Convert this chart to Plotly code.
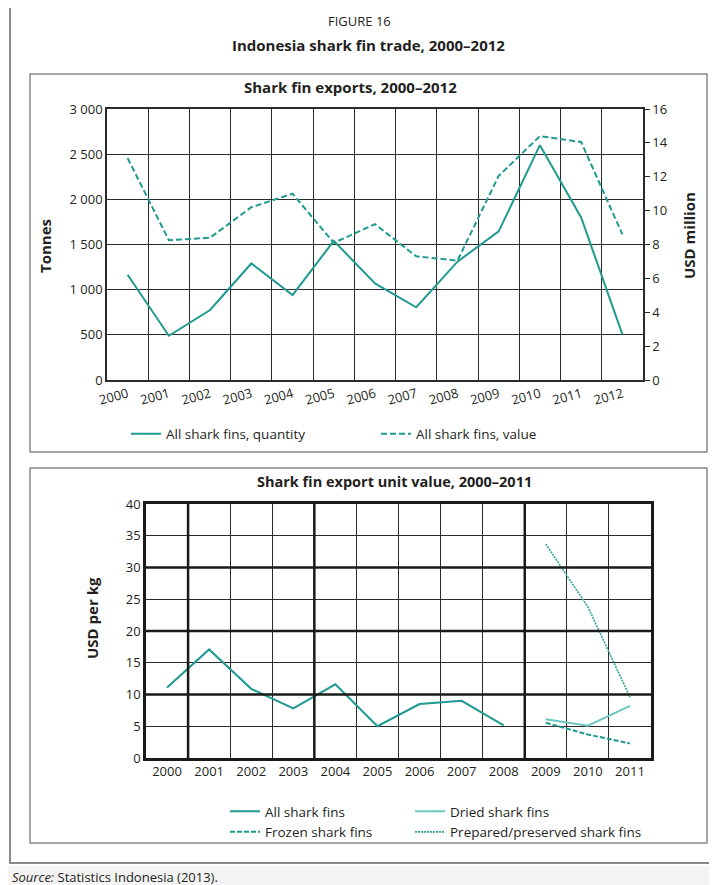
import plotly.graph_objects as go

# ---------------- data ----------------
years_top = ["2000", "2001", "2002", "2003", "2004", "2005", "2006",
             "2007", "2008", "2009", "2010", "2011", "2012"]
quantity_tonnes = [1165, 490, 775, 1290, 940, 1540, 1070, 805, 1310, 1645, 2600, 1800, 505]
value_usd_million = [13.1, 8.25, 8.4, 10.2, 11.0, 8.1, 9.2, 7.3, 7.05, 12.05, 14.4, 14.05, 8.6]

left_ticks = [0, 500, 1000, 1500, 2000, 2500, 3000]
left_ticktext = ["0", "500", "1 000", "1 500", "2 000", "2 500", "3 000"]

years_bot = ["2000", "2001", "2002", "2003", "2004", "2005",
             "2006", "2007", "2008", "2009", "2010", "2011"]
all_fins = [11.1, 17.1, 10.9, 7.8, 11.6, 5.0, 8.5, 9.0, 5.15, None, None, None]
dried_fins = [None] * 9 + [6.1, 5.1, 8.2]
frozen_fins = [None] * 9 + [5.55, 3.7, 2.3]
prepared_fins = [None] * 9 + [33.7, 23.8, 9.6]

# page is 717x885; the html body adds an 8px margin, so the figure is 709x877
OFF = 8
W, H = 717 - OFF, 885 - OFF
FONT = "Open Sans"
TXT = "#231f20"
TEAL = "#1f9a91"
TEAL_LIGHT = "#6cc8bf"
GRID = "#2b2b2b"

def px(v):
    return (v - OFF) / W

def py(v):
    return 1 - (v - OFF) / H

fig = go.Figure()

# ---- top chart ----
fig.add_trace(go.Scatter(x=years_top, y=quantity_tonnes, name="All shark fins, quantity",
                         mode="lines", line=dict(color=TEAL, width=2),
                         xaxis="x", yaxis="y", legend="legend"))
fig.add_trace(go.Scatter(x=years_top, y=value_usd_million, name="All shark fins, value",
                         mode="lines", line=dict(color=TEAL, width=2, dash="6px,3px"),
                         xaxis="x", yaxis="y2", legend="legend"))

# ---- bottom chart ----
fig.add_trace(go.Scatter(x=years_bot, y=all_fins, name="All shark fins",
                         mode="lines", line=dict(color=TEAL, width=2),
                         xaxis="x2", yaxis="y3", legend="legend2", legendgroup="a"))
fig.add_trace(go.Scatter(x=years_bot, y=frozen_fins, name="Frozen shark fins",
                         mode="lines", line=dict(color=TEAL, width=2, dash="5px,2px"),
                         xaxis="x2", yaxis="y3", legend="legend2", legendgroup="b"))
fig.add_trace(go.Scatter(x=years_bot, y=dried_fins, name="Dried shark fins",
                         mode="lines", line=dict(color=TEAL_LIGHT, width=2),
                         xaxis="x2", yaxis="y3", legend="legend3", legendgroup="c"))
fig.add_trace(go.Scatter(x=years_bot, y=prepared_fins, name="Prepared/preserved shark fins",
                         mode="lines", line=dict(color="#2fa49b", width=1.6, dash="2px,1px"),
                         xaxis="x2", yaxis="y3", legend="legend3", legendgroup="d"))

tickfont = dict(family=FONT, size=13, color=TXT)
legfont = dict(family=FONT, size=13.5, color=TXT)

fig.update_layout(
    width=W, height=H,
    margin=dict(l=0, r=0, t=0, b=0),
    paper_bgcolor="white", plot_bgcolor="white",
    font=dict(family=FONT, size=13, color=TXT),
    xaxis=dict(domain=[px(107), px(643)], anchor="y", type="category",
               range=[-0.5, len(years_top) - 0.5], automargin=False,
               tickson="boundaries", showgrid=True, gridcolor=GRID, gridwidth=1.3,
               showline=True, linecolor=GRID, linewidth=1.5, mirror=True,
               ticks="outside", ticklen=6, tickcolor="rgba(0,0,0,0)",
               tickangle=-15, tickfont=tickfont, zeroline=False),
    yaxis=dict(domain=[py(380), py(109)], anchor="x", range=[0, 3000], automargin=False,
               tickvals=left_ticks, ticktext=left_ticktext,
               showgrid=True, gridcolor=GRID, gridwidth=1.3, zeroline=False,
               ticks="", tickfont=tickfont, showline=True, linecolor=GRID, linewidth=1.5),
    yaxis2=dict(overlaying="y", side="right", anchor="x", range=[0, 16], dtick=2,
                automargin=False,
                showgrid=False, zeroline=False, ticks="outside", ticklen=5,
                tickcolor=GRID, tickwidth=1, tickfont=tickfont,
                showline=True, linecolor=GRID, linewidth=1.5),
    xaxis2=dict(domain=[px(146), px(651)], anchor="y3", type="category",
                range=[-0.5, len(years_bot) - 0.5], automargin=False,
                tickson="boundaries", showgrid=True, gridcolor=GRID, gridwidth=1.3,
                showline=True, linecolor="#1a1a1a", linewidth=2.5, mirror=True,
                ticks="outside", ticklen=2, tickcolor="rgba(0,0,0,0)",
                tickfont=tickfont, zeroline=False),
    yaxis3=dict(domain=[py(758), py(504)], anchor="x2", range=[0, 40], automargin=False,
                tickvals=[0, 5, 10, 15, 20, 25, 30, 35, 40],
                showgrid=False, zeroline=False, ticks="", tickfont=tickfont,
                showline=True, linecolor="#1a1a1a", linewidth=2.5, mirror=True,
                minor=dict(dtick=5, showgrid=True, gridcolor=GRID, gridwidth=1.3)),
    legend=dict(orientation="h", x=px(126), y=py(434), yanchor="middle", xanchor="left",
                font=legfont, entrywidth=205, bgcolor="rgba(0,0,0,0)"),
    legend2=dict(orientation="v", x=px(225), y=py(796), yanchor="top", xanchor="left",
                 font=legfont, tracegroupgap=0, bgcolor="rgba(0,0,0,0)"),
    legend3=dict(orientation="v", x=px(410), y=py(796), yanchor="top", xanchor="left",
                 font=legfont, tracegroupgap=0, bgcolor="rgba(0,0,0,0)"),
)

shapes = []
# gray strip below frame
shapes.append(dict(type="rect", xref="paper", yref="paper", x0=0, x1=1,
                   y0=py(890), y1=py(866), fillcolor="#f3f3f3", line=dict(width=0),
                   layer="below"))
# outer frame
shapes.append(dict(type="rect", xref="paper", yref="paper", x0=px(10), x1=px(730),
                   y0=py(863), y1=py(5), line=dict(color="#8a8a8a", width=2)))
# panel boxes
shapes.append(dict(type="rect", xref="paper", yref="paper", x0=px(30), x1=px(707),
                   y0=py(452), y1=py(74), line=dict(color="#8a8a8a", width=1.5)))
shapes.append(dict(type="rect", xref="paper", yref="paper", x0=px(30), x1=px(707),
                   y0=py(843), y1=py(468), line=dict(color="#8a8a8a", width=1.5)))
# heavy gridlines on the bottom chart
for xb in [0.5, 3.5, 8.5]:
    shapes.append(dict(type="line", xref="x2", yref="y3 domain", x0=xb, x1=xb, y0=0, y1=1,
                       line=dict(color="#1a1a1a", width=2.5)))
for yb in [10, 20, 30]:
    shapes.append(dict(type="line", xref="x2 domain", yref="y3", x0=0, x1=1, y0=yb, y1=yb,
                       line=dict(color="#1a1a1a", width=2.5)))
fig.update_layout(shapes=shapes)

ann = [
    dict(text="FIGURE 16", x=px(359), y=py(21), font=dict(size=13)),
    dict(text="<b>Indonesia shark fin trade, 2000–2012</b>", x=px(368), y=py(45), font=dict(size=15)),
    dict(text="<b>Shark fin exports, 2000–2012</b>", x=px(350), y=py(87), font=dict(size=15)),
    dict(text="<b>Shark fin export unit value, 2000–2011</b>", x=px(394), y=py(482), font=dict(size=14.5)),
    dict(text="<b>Tonnes</b>", x=px(45), y=py(246), textangle=-90, font=dict(size=15)),
    dict(text="<b>USD million</b>", x=px(689), y=py(236), textangle=-90, font=dict(size=15)),
    dict(text="<b>USD per kg</b>", x=px(92), y=py(618), textangle=-90, font=dict(size=15)),
    dict(text="<i>Source:</i> Statistics Indonesia (2013).", x=px(10), y=py(877),
         xanchor="left", font=dict(size=13)),
]
for a in ann:
    a.setdefault("xanchor", "center")
    a.update(xref="paper", yref="paper", showarrow=False, yanchor="middle")
    a["font"] = dict(family=FONT, color=TXT, size=a["font"]["size"])
fig.update_layout(annotations=ann)

fig.write_html("out.html")
